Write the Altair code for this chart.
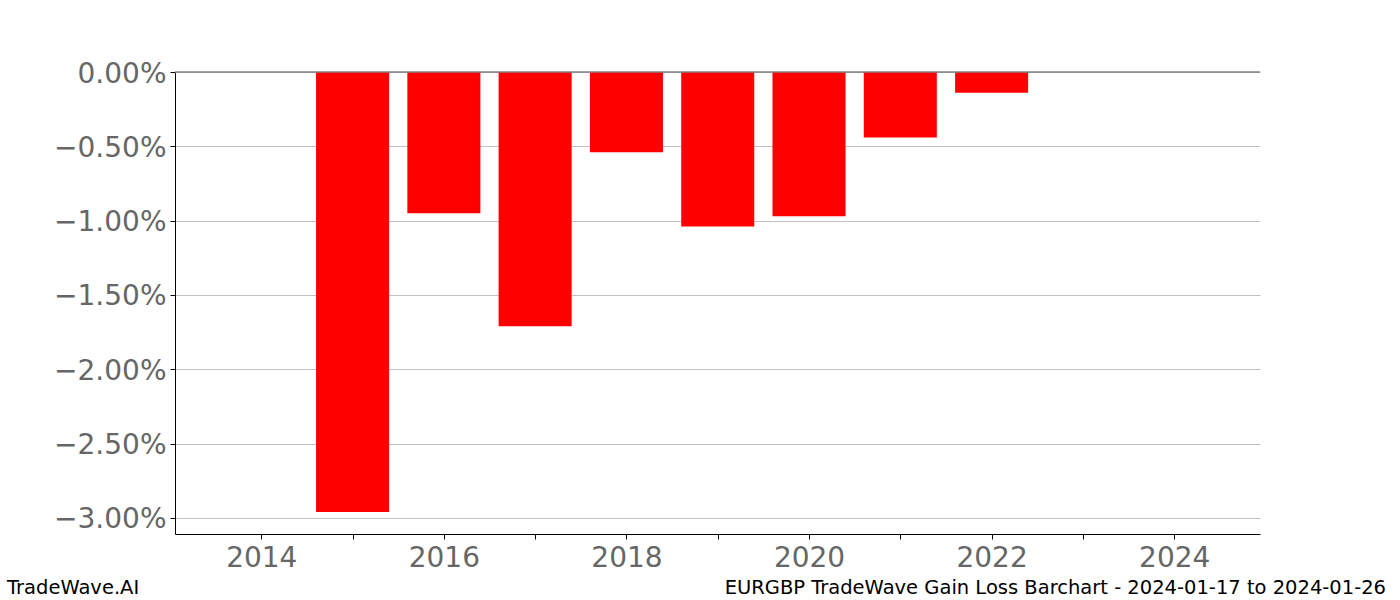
import altair as alt
import pandas as pd

years = [2015, 2016, 2017, 2018, 2019, 2020, 2021, 2022]
values = [-2.96, -0.95, -1.71, -0.54, -1.04, -0.97, -0.44, -0.14]
y_ticks = [0.0, -0.5, -1.0, -1.5, -2.0, -2.5, -3.0]
x_ticks = list(range(2014, 2025))

df = pd.DataFrame({"year": years, "value": values})
df["x0"] = df["year"] - 0.4
df["x1"] = df["year"] + 0.4

FONT = "DejaVu Sans"
W, H = 1085, 462

xscale = alt.Scale(domain=[2013.055, 2024.94], nice=False, zero=False)
yscale = alt.Scale(domain=[-3.108, 0], nice=False, zero=False)

xaxis = alt.Axis(
    values=x_ticks, title=None, grid=False,
    labelExpr="datum.value % 2 == 0 ? format(datum.value, 'd') : ''",
    labelFont=FONT, labelFontSize=28, labelColor="#666666",
    tickColor="black", tickSize=5, domainColor="black", labelPadding=5,
    labelFlush=False, labelOverlap=False,
)
yaxis = alt.Axis(
    values=y_ticks, title=None, grid=True, gridColor="#c0c0c0",
    labelExpr="replace(format(datum.value, '.2f') + '%', '-', '\u2212')",
    labelFont=FONT, labelFontSize=28, labelColor="#666666",
    tickColor="black", tickSize=5, domainColor="black", labelPadding=4,
    labelOffset=2,
    labelFlush=False, labelOverlap=False,
)

bars = alt.Chart(df).mark_bar(color="#ff0000").encode(
    x=alt.X("x0:Q", scale=xscale, axis=xaxis),
    x2="x1:Q",
    y=alt.Y("value:Q", scale=yscale, axis=yaxis),
    y2=alt.datum(0),
)

zero = alt.Chart(pd.DataFrame({"z": [0.0]})).mark_rule(color="#808080", strokeWidth=1.5).encode(
    y=alt.Y("z:Q", scale=yscale),
)

left_txt = alt.Chart(pd.DataFrame({"t": ["TradeWave.AI"]})).mark_text(
    font=FONT, fontSize=19.5, align="left", baseline="middle", color="black", clip=False
).encode(text="t:N", x=alt.value(7 - 175), y=alt.value(588 - 72))

right_txt = alt.Chart(pd.DataFrame({"t": ["EURGBP TradeWave Gain Loss Barchart - 2024-01-17 to 2024-01-26"]})).mark_text(
    font=FONT, fontSize=19.5, align="right", baseline="middle", color="black", clip=False
).encode(text="t:N", x=alt.value(1386 - 175), y=alt.value(588 - 72))

chart = alt.layer(bars, zero, left_txt, right_txt).properties(
    width=W, height=H,
    background="white",
    autosize=alt.AutoSizeParams(type="none"),
    padding={"left": 175, "top": 72, "right": 140, "bottom": 66},
).configure_view(stroke=None)

chart.save("out.html", embed_options={"renderer": "svg", "actions": False})
